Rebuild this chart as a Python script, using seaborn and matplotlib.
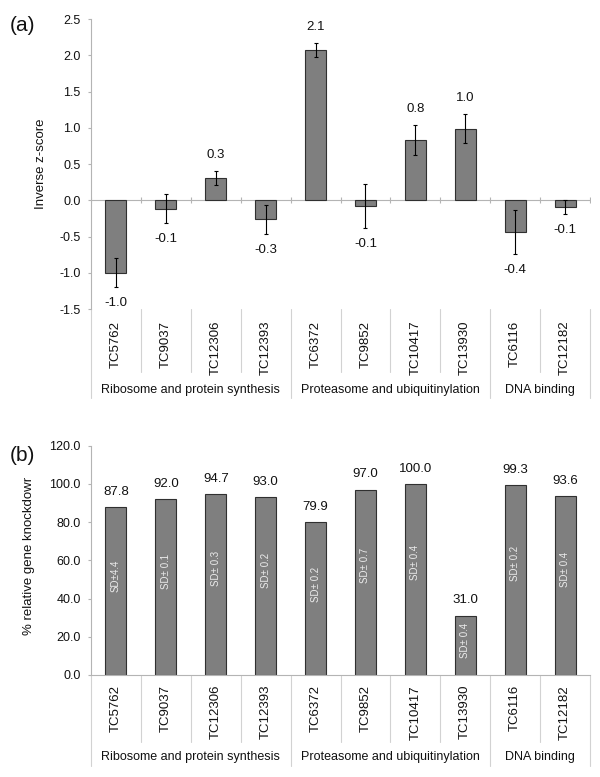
"""Inverse z-score and relative knockdown per gene, grouped by function."""
import matplotlib
matplotlib.use("Agg")
import numpy as np
import matplotlib.pyplot as plt
import seaborn as sns

genes = ["TC5762", "TC9037", "TC12306", "TC12393", "TC6372",
         "TC9852", "TC10417", "TC13930", "TC6116", "TC12182"]
groups = ["Ribosome and protein synthesis", "Proteasome and ubiquitinylation", "DNA binding"]
group_sizes = [4, 4, 2]

# panel (a)
zscore = [-1.0, -0.12, 0.31, -0.26, 2.07, -0.08, 0.83, 0.99, -0.44, -0.09]
zscore_err = [0.2, 0.2, 0.1, 0.2, 0.095, 0.3, 0.205, 0.2, 0.3, 0.1]

# panel (b)
knockdown = [87.8, 92.0, 94.7, 93.0, 79.9, 97.0, 100.0, 31.0, 99.3, 93.6]
sd_labels = ["SD\u00b14.4", "SD\u00b1 0.1", "SD\u00b1 0.3", "SD\u00b1 0.2", "SD\u00b1 0.2",
             "SD\u00b1 0.7", "SD\u00b1 0.4", "SD\u00b1 0.4", "SD\u00b1 0.2", "SD\u00b1 0.4"]

sns.set_style("white")
plt.rcParams["font.family"] = ["Liberation Sans", "DejaVu Sans"]
plt.rcParams["axes.unicode_minus"] = False

BAR = "#7f7f7f"
EDGE = "#303030"
AXIS = "#b4b4b4"
SEP = "#d2d2d2"
TXT = "#111111"

fig = plt.figure(figsize=(6, 7.77), dpi=100)
ax_a = fig.add_axes([0.1517, 0.6023, 0.8316, 0.3732])
ax_b = fig.add_axes([0.1517, 0.1313, 0.8316, 0.2951])


def category_axis(ax, gene_gap, sep_len, group_len, group_gap):
    """Excel-like two-level category axis drawn under the plot."""
    h = ax.bbox.height
    tr = ax.get_xaxis_transform()
    n = len(genes)
    edges = np.cumsum([0] + group_sizes) - 0.5
    for b in np.arange(n + 1) - 0.5:
        length = group_len if b in edges else sep_len
        ax.plot([b, b], [0, -length / h], transform=tr, color=SEP,
                lw=0.8, clip_on=False)
    for i, g in enumerate(genes):
        ax.text(i, -gene_gap / h, g, transform=tr, rotation=90, ha="center",
                va="top", fontsize=9.5, color=TXT)
    for k, name in enumerate(groups):
        mid = (edges[k] + edges[k + 1]) / 2
        ax.text(mid, -group_gap / h, name, transform=tr, ha="center",
                va="center", fontsize=9, color=TXT)
    ax.set_xticks([])
    ax.set_xlim(-0.5, n - 0.5)


def style_y(ax):
    for s in ["top", "right", "bottom"]:
        ax.spines[s].set_visible(False)
    ax.spines["left"].set_color(AXIS)
    ax.spines["left"].set_linewidth(0.8)
    ax.tick_params(axis="y", length=2.5, width=0.8, color=AXIS, pad=5,
                   labelsize=9, labelcolor=TXT, left=True)
    ax.yaxis.set_major_formatter(matplotlib.ticker.FormatStrFormatter("%.1f"))


# ---- (a) inverse z-score
sns.barplot(x=genes, y=zscore, color=BAR, saturation=1, edgecolor=EDGE,
            linewidth=0.8, width=0.42, errorbar=None, ax=ax_a)
ax_a.errorbar(np.arange(len(genes)), zscore, yerr=zscore_err, fmt="none",
              ecolor="black", elinewidth=0.8, capsize=1.6, capthick=0.8)
ax_a.axhline(0, color=AXIS, lw=0.8, zorder=0)
ax_a.plot(np.arange(len(genes) + 1) - 0.5, np.zeros(len(genes) + 1), ls="none",
          marker="|", ms=4, mew=0.8, color=AXIS, zorder=0)
ax_a.set_ylim(-1.5, 2.5)
ax_a.set_yticks(np.arange(-1.5, 2.51, 0.5))
style_y(ax_a)
for i, (v, e) in enumerate(zip(zscore, zscore_err)):
    end = v + e if v >= 0 else v - e
    off = 11.5 if v >= 0 else -11.5
    ax_a.annotate(f"{v:.1f}", (i, end), xytext=(0, off), textcoords="offset points",
                  ha="center", va="center", fontsize=9.5, color=TXT)
ax_a.set_ylabel("Inverse z-score", fontsize=9.5, color=TXT)
ax_a.yaxis.set_label_coords(-0.089, 0.5)
category_axis(ax_a, gene_gap=11.5, sep_len=62.7, group_len=89, group_gap=81)

# ---- (b) relative knockdown
sns.barplot(x=genes, y=knockdown, color=BAR, saturation=1, edgecolor=EDGE,
            linewidth=0.8, width=0.42, errorbar=None, ax=ax_b)
ax_b.set_ylim(0, 120)
ax_b.set_yticks(np.arange(0, 120.1, 20))
style_y(ax_b)
ax_b.spines["bottom"].set_visible(True)
ax_b.spines["bottom"].set_color(AXIS)
ax_b.spines["bottom"].set_linewidth(0.8)
for i, (v, sd) in enumerate(zip(knockdown, sd_labels)):
    ax_b.annotate(f"{v:.1f}", (i, v), xytext=(0, 11), textcoords="offset points",
                  ha="center", va="center", fontsize=9.5, color=TXT)
    ax_b.text(i, min(64.5, v * 0.59), sd, rotation=90, ha="center", va="center",
              fontsize=7, color="#ececec")
ax_b.set_ylabel("% relative gene knockdowr", fontsize=9.5, color=TXT)
ax_b.yaxis.set_label_coords(-0.112, 0.52)
category_axis(ax_b, gene_gap=10, sep_len=66.7, group_len=91, group_gap=81.7)

fig.text(0.017, 0.9678, "(a)", fontsize=15, va="center", ha="left", color=TXT)
fig.text(0.017, 0.4144, "(b)", fontsize=15, va="center", ha="left", color=TXT)

fig.savefig("out.png", dpi=100)
